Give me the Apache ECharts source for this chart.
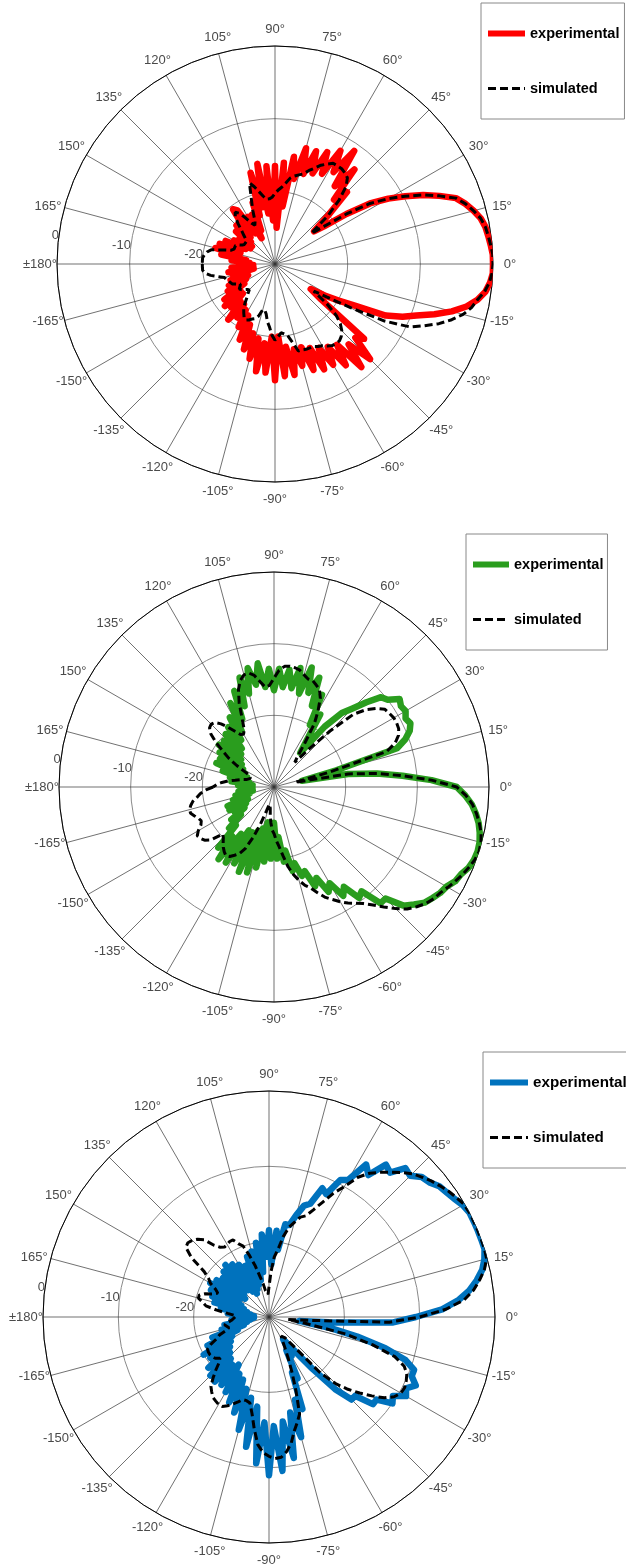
<!DOCTYPE html>
<html><head><meta charset="utf-8">
<script src="https://cdn.jsdelivr.net/npm/echarts/dist/echarts.min.js"></script>
<style>html,body{margin:0;padding:0;background:#fff}#c{width:626px;height:1567px}</style>
</head><body><div id="c"></div>
<script>
// sampling angles (degrees), -180..180 every 2.5
const angles = [];
for (let i = 0; i <= 144; i++) angles.push(-180 + 2.5 * i);
const radiusTicks = [-30, -20, -10, 0];

// Plot 1 (red)
const exp1 = [-25,-27,-24,-27,-23.5,-27,-24,-26,-23.5,-26,-23,-25.5,-22.5,-25,-21.5,-24,-21,-24,-21.5,-23,-20,-23,-21,-22.5,-20,-22,-18.5,-21,-17.5,-20,-16.5,-19.5,-15,-19,-15,-20,-14,-20,-14.5,-18.5,-14.5,-18,-15.5,-18,-14.5,-17.5,-14,-17,-14,-16.5,-13,-16,-11.5,-15,-11.5,-15,-14,-22,-24,-22,-20,-17.5,-13.2,-11,-9.3,-7,-4.8,-3,-1.7,-0.8,-0.3,0,0,0,-0.2,-0.4,-0.6,-1,-1.7,-2.5,-3.5,-5.5,-7.5,-9.8,-12,-14.5,-18,-21.5,-23,-20,-16,-18,-13,-16.5,-11,-15,-12,-16,-13,-16.5,-13.5,-17,-13.5,-18,-15,-22,-16,-25,-16.5,-24,-16.5,-23,-16,-22,-17,-23,-21,-25,-22.5,-26,-22.5,-25,-21,-20.5,-23,-25,-22.5,-25.5,-23,-26,-24,-26,-23.5,-25.5,-22.5,-25,-21.9,-25,-21.5,-25,-22.5,-26,-24,-26.5,-25];
const sim1 = [-20,-20,-20,-20.3,-21,-22,-22.8,-23,-23.2,-23.3,-23.5,-24,-24.5,-24.3,-24,-24.2,-24.5,-24.8,-25,-24.5,-24,-23.2,-22.5,-22,-21.5,-21.3,-21.5,-21.8,-22,-22.5,-23.5,-23.5,-23,-22,-21.3,-20.2,-19.5,-20,-20.5,-20.3,-20,-19,-17.6,-17.6,-17.5,-17.5,-17.5,-17.2,-17,-16.6,-16.3,-16.2,-16.2,-16.5,-17,-17.8,-19,-21,-23.5,-21.5,-18,-13,-9.5,-7.8,-6,-4.5,-3.2,-2.3,-1.7,-0.9,-0.4,-0.1,0,0,-0.2,-0.4,-0.6,-1,-1.7,-2.5,-3.5,-5.5,-7.5,-9.8,-12,-14.5,-18,-21.5,-23.5,-20,-17.5,-15.5,-14.5,-14.2,-14,-14,-14,-14.5,-15,-15.7,-16.3,-17,-17.3,-17.6,-18,-18.8,-19.4,-19.8,-20.3,-20.8,-21,-21,-20.5,-19.8,-19,-18.3,-20.5,-22,-23.5,-24,-23.5,-22.5,-21.5,-21,-21.5,-22.5,-23.5,-24.2,-24.8,-25,-25,-25,-24.8,-24.3,-24,-24,-24,-23.7,-22.5,-21,-20.5,-20.2,-20,-20,-20];

// Plot 2 (green)
const exp2 = [-27,-25.5,-27,-25,-27,-24.5,-26.5,-24,-26,-23,-26,-23,-25.5,-23.5,-25,-22.5,-24,-21.5,-22.5,-18.5,-21,-17.3,-22,-17.5,-23,-18,-23,-17.2,-23.5,-17.5,-24,-18.5,-25,-19.5,-24,-20,-25,-20,-23,-19.5,-21,-18,-19,-17,-17.5,-15,-16,-13.5,-14.5,-12,-13,-10.5,-11,-8,-8,-5.5,-4.5,-3.5,-3,-2.5,-2.2,-1.5,-1.2,-0.6,-0.3,-0.2,-0.3,-0.6,-1,-1.6,-2.3,-3.3,-4.5,-8,-12,-15.5,-19.5,-26,-21,-12,-10.5,-9.5,-9,-9.3,-8.8,-9,-8.6,-10,-10.5,-12.5,-14.5,-16,-19,-24,-22,-18,-20,-15.5,-17.5,-13.5,-16,-12.5,-16.5,-13,-16,-13.5,-16,-13.5,-16.5,-13.5,-16,-12.6,-15.5,-13,-16.5,-14,-18,-15.5,-19.5,-16.8,-21,-18.5,-22,-19.5,-23,-20,-23.5,-20.5,-24,-20.3,-24.5,-21,-25,-21.5,-25.5,-21.3,-26,-22.5,-26,-23.7,-26.5,-24,-27,-25,-27];
const sim2 = [-21.5,-20.5,-19.7,-19.2,-18.5,-18.1,-17.8,-17.8,-18.2,-18.6,-18.8,-18.5,-17.8,-17.3,-17.5,-17.8,-18.5,-20.3,-20,-19.5,-19,-18.6,-18.3,-18.5,-19,-19.5,-20.5,-22.4,-24.5,-26.5,-27.5,-27.5,-27,-26,-25,-24,-23.5,-22.5,-21.6,-20.3,-18.7,-17.5,-16.5,-15.6,-15,-14,-13,-12.3,-11.5,-10.8,-10.2,-9.5,-8.5,-7.3,-6,-4.8,-4,-3.3,-2.8,-2.5,-2,-1.5,-1,-0.6,-0.2,0,-0.1,-0.4,-0.9,-1.5,-2.2,-3.2,-4.5,-8,-12,-15.5,-19.5,-27,-22,-13.5,-12,-11.2,-10.8,-10.7,-10.7,-10.9,-11.1,-12,-13.2,-15,-19,-23,-25.5,-24.5,-22.5,-19.5,-17.7,-16,-15,-14.6,-14.2,-14.2,-13.8,-13.3,-13.1,-13,-13.1,-13.7,-14.8,-15.8,-16,-15.2,-14.2,-13.7,-13.8,-14.4,-15.5,-17.3,-19.5,-21,-21.5,-21.3,-20.5,-19.5,-18.5,-17.8,-17.6,-17.8,-18.5,-19.8,-21.3,-22.5,-24,-25.5,-26.2,-26.5,-26.5,-26.5,-26,-25.2,-24.5,-23.5,-22.7,-22,-21.5];

// Plot 3 (blue)
const exp3 = [-26,-28,-25,-27.5,-24,-27,-23.5,-26.5,-22,-25.5,-21,-24.5,-20,-24,-20.5,-23.5,-19.5,-23,-19,-22.5,-18.8,-22,-19,-22.5,-18.5,-21.5,-17.5,-21,-16.5,-20,-14.5,-19,-12.5,-18,-10.5,-16,-9,-15.5,-9.5,-16,-11,-17,-13.5,-18.5,-17,-22,-21,-25,-24,-26.5,-25.5,-24,-21,-17,-14.5,-14.5,-12,-12,-10,-10.5,-9,-9.5,-8.5,-9.5,-9.5,-11,-14,-18,-22,-26,-22,-13.5,-10.5,-7,-4.8,-3.2,-2,-1,-0.4,0,0,0,0,0,-0.3,-0.8,-1.2,-1.5,-2.2,-2.5,-3.5,-3.2,-5,-4.5,-7,-6,-9,-9.5,-12,-11.5,-14,-14.5,-16,-17.5,-17.5,-21,-18.5,-23,-18.5,-22,-19,-24,-20,-25,-21,-25.5,-21.5,-26,-22.5,-26.5,-22,-26,-21.5,-25.5,-21,-25,-21.5,-25.5,-22,-26,-21.5,-25.5,-21,-25,-21.5,-26,-22,-26.5,-22.5,-27,-23.5,-27.5,-24.5,-28,-26];
const sim3 = [-25.5,-25.5,-25,-24.5,-24,-24,-24.5,-24,-23,-22.5,-21.5,-20.8,-20.7,-20.7,-20.8,-21,-21.5,-21,-20,-19,-18,-17.5,-17,-16.8,-16.6,-16.6,-17,-17.5,-18,-18.5,-18.5,-18.3,-17,-15,-13,-12,-11.5,-11.2,-11.3,-12,-13,-14.5,-15.5,-16.5,-19.5,-22,-24,-25.5,-26.5,-27,-27,-26.5,-25,-20,-17.5,-15.8,-14.3,-12.8,-11.3,-10.3,-9.8,-9.7,-9.9,-10.2,-10.9,-12.5,-15.8,-19.5,-25,-27.5,-25,-14,-10,-6.5,-4,-2.6,-1.6,-0.7,-0.1,0,0,0,0,0,-0.1,-0.5,-0.9,-1.4,-1.9,-2.5,-3.1,-4,-4.9,-5.8,-6.7,-8,-10,-11.5,-13.2,-14.6,-15.7,-16.1,-17,-17.8,-19.2,-21,-22,-24,-26,-27,-27,-26.5,-25.5,-24.5,-23,-21.5,-20,-19.5,-18.7,-18.7,-18.9,-19,-18.7,-18,-16.6,-16,-15.6,-15.4,-15.6,-17,-19.5,-20.5,-21,-22,-22.5,-22,-21,-20.3,-20.3,-21,-21.5,-23,-24.5,-25.5,-25.5];

const FONT = "'Liberation Sans', Arial, Helvetica, sans-serif";
const plots = [
  {center: [275, 264], radius: 218, color: '#ff0000', exp: exp1, sim: sim1,
   legendPos: {left: 481, top: 3}, legendPad: [23, 5, 23, 4], legendFont: 14.5, iconW: 37},
  {center: [274, 787], radius: 215, color: '#2a9d1e', exp: exp2, sim: sim2,
   legendPos: {left: 466, top: 534}, legendPad: [23, 4, 23, 4], legendFont: 14.5, iconW: 36},
  {center: [269, 1317], radius: 226, color: '#0072bd', exp: exp3, sim: sim3,
   legendPos: {left: 483, top: 1052}, legendPad: [23, 14, 23, 4], legendFont: 15.2, iconW: 38}
];

// Per-tick label boxes so every angle label is centred ~17px outside the circle.
const LABEL_OFF = 14;   // distance from anchor (margin 3) to label centre
const angleRich = {};
for (let t = -165; t <= 180; t += 15) {
  const c = Math.abs(Math.cos(t * Math.PI / 180)), s = Math.abs(Math.sin(t * Math.PI / 180));
  angleRich['t' + (t + 180)] = {
    width: c < 0.3 ? 40 : Math.max(2, 2 * LABEL_OFF * c),
    height: s < 0.3 ? 16 : Math.max(2, 2 * LABEL_OFF * s),
    align: 'center', verticalAlign: 'middle',
    color: '#4a4a4a', fontSize: 13, fontFamily: FONT
  };
}
angleRich['t0'] = angleRich['t360'];

const polar = [], angleAxis = [], radiusAxis = [], series = [], legend = [];
plots.forEach((p, i) => {
  polar.push({center: p.center, radius: p.radius});
  polar.push({center: p.center, radius: p.radius});
  angleAxis.push({
    polarIndex: 2 * i, type: 'value', min: -180, max: 180, interval: 15,
    startAngle: 180, clockwise: false,
    axisLine: {lineStyle: {color: '#000', width: 1}},
    axisTick: {show: false},
    axisLabel: {
      margin: 3,
      formatter: v => v === 180 ? '' :
        '{t' + (v + 180) + '|' + (v === -180 ? '\u00b1180\u00b0' : v + '\u00b0') + '}',
      rich: angleRich
    },
    splitLine: {show: true, lineStyle: {color: '#333', width: 0.7}}
  });
  angleAxis.push({polarIndex: 2 * i + 1, type: 'value', min: 0, max: 360, startAngle: 172.5, show: false});
  radiusAxis.push({
    polarIndex: 2 * i, type: 'value', min: radiusTicks[0], max: radiusTicks[3], interval: 10,
    axisLine: {show: false}, axisTick: {show: false}, axisLabel: {show: false},
    splitLine: {show: true, lineStyle: {color: '#8a8a8a', width: 1}}
  });
  radiusAxis.push({
    polarIndex: 2 * i + 1, type: 'value', min: radiusTicks[0], max: radiusTicks[3], interval: 10,
    axisLine: {show: false}, axisTick: {show: false}, splitLine: {show: false},
    axisLabel: {
      margin: 0, align: 'right', verticalAlign: 'middle',
      color: '#4a4a4a', fontSize: 13, fontFamily: FONT,
      formatter: v => v === radiusTicks[0] ? '' : String(v)
    }
  });
  series.push({
    name: 'exp' + i, type: 'line', coordinateSystem: 'polar', polarIndex: 2 * i,
    data: angles.map((a, k) => [p.exp[k], a]),
    symbol: 'none', showSymbol: false, smooth: false, animation: false,
    lineStyle: {color: p.color, width: 6.5, join: 'round', cap: 'round'},
    itemStyle: {color: p.color}, z: 3
  });
  series.push({
    name: 'sim' + i, type: 'line', coordinateSystem: 'polar', polarIndex: 2 * i,
    data: angles.map((a, k) => [p.sim[k], a]),
    symbol: 'none', showSymbol: false, smooth: false, animation: false,
    lineStyle: {color: '#000', width: 3, type: [8, 4]},
    itemStyle: {color: '#000'}, z: 4
  });
  legend.push(Object.assign({
    data: [
      {name: 'exp' + i, lineStyle: {width: 6, color: p.color, type: 'solid', cap: 'butt'}},
      {name: 'sim' + i, lineStyle: {width: 3, color: '#000', type: [8, 4], cap: 'butt'}}
    ],
    orient: 'vertical',
    padding: p.legendPad, itemGap: 40, itemWidth: p.iconW, itemHeight: 14,
    borderColor: '#888', borderWidth: 1, backgroundColor: '#fff',
    selectedMode: false,
    itemStyle: {opacity: 0},
    textStyle: {fontWeight: 'bold', fontSize: p.legendFont, color: '#000', fontFamily: FONT},
    formatter: n => n.indexOf('exp') === 0 ? 'experimental' : 'simulated'
  }, p.legendPos));
});

const chart = echarts.init(document.getElementById('c'), null, {renderer: 'canvas'});
chart.setOption({
  animation: false, backgroundColor: '#fff',
  polar, angleAxis, radiusAxis, series, legend
});
</script></body></html>
